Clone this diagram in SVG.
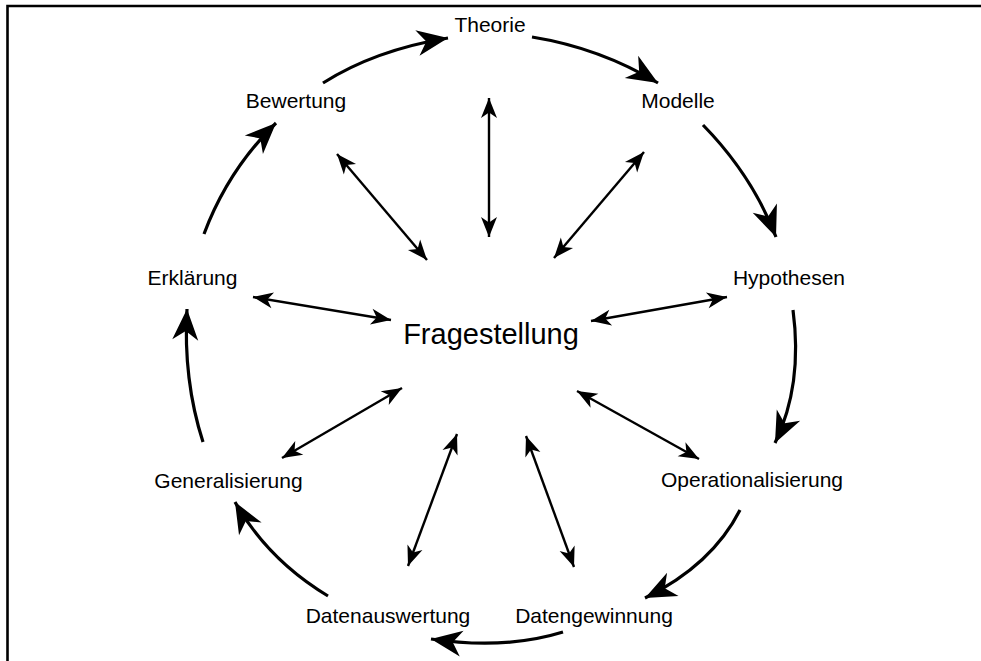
<svg xmlns="http://www.w3.org/2000/svg" width="981" height="661" viewBox="0 0 981 661">
  <style>
    .lbl { font-family: "Liberation Sans", Arial, Helvetica, sans-serif; font-size: 21px; fill: #000; text-anchor: middle; }
    .main { font-size: 29px; }
    .cycle { fill: none; stroke: #000; stroke-width: 3.2; marker-end: url(#bigHead); }
    .link { fill: none; stroke: #000; stroke-width: 2.4; marker-start: url(#smallHead); marker-end: url(#smallHead); }
    .frame { fill: none; stroke: #000; stroke-width: 2.6; }
  </style>
  <defs>
    <marker id="bigHead" markerUnits="userSpaceOnUse" viewBox="-34 -16 36 32" refX="0" refY="0" markerWidth="36" markerHeight="32" orient="auto" overflow="visible">
      <path d="M0,0 L-31,-13 L-22,0 L-31,13 Z" fill="#000"/>
    </marker>
    <marker id="smallHead" markerUnits="userSpaceOnUse" viewBox="-23 -10 25 20" refX="0" refY="0" markerWidth="25" markerHeight="20" orient="auto-start-reverse" overflow="visible">
      <path d="M0,0 L-20,-8 L-14.5,0 L-20,8 Z" fill="#000"/>
    </marker>
  </defs>

  <rect width="981" height="661" fill="#fff"/>
  <!-- open frame: top and left edges only -->
  <path class="frame" d="M7.5,661 L7.5,6 L981,6"/>

  <g id="connectors">
    <!-- outer cycle -->
    <path class="cycle" d="M323,83 Q375,50 448,38"/>
    <path class="cycle" d="M532,37 Q600,48 658,83"/>
    <path class="cycle" d="M703,125 Q752,175 776,237"/>
    <path class="cycle" d="M793,310 Q803,385 775,443"/>
    <path class="cycle" d="M740,510 Q712,565 645,598"/>
    <path class="cycle" d="M563,632 Q505,650 431,639"/>
    <path class="cycle" d="M328,596 Q268,560 235,502"/>
    <path class="cycle" d="M203,442 Q183,380 187,309"/>
    <path class="cycle" d="M204,234 Q228,170 276,123"/>
    <!-- links to the central question -->
    <path class="link" d="M489,98 L489,237"/>
    <path class="link" d="M337,154 L427,260"/>
    <path class="link" d="M644,152 L554,258"/>
    <path class="link" d="M253,297 L391,320"/>
    <path class="link" d="M727,297 L591,321"/>
    <path class="link" d="M282,458 L402,388"/>
    <path class="link" d="M699,459 L577,391"/>
    <path class="link" d="M457,434 L408,566"/>
    <path class="link" d="M526,436 L574,567"/>
  </g>

  <g id="fragestellung"><text class="lbl main" x="491" y="344">Fragestellung</text></g>
  <g id="theorie"><text class="lbl" x="490" y="32">Theorie</text></g>
  <g id="modelle"><text class="lbl" x="678" y="108">Modelle</text></g>
  <g id="hypothesen"><text class="lbl" x="789" y="285">Hypothesen</text></g>
  <g id="operationalisierung"><text class="lbl" x="752" y="487">Operationalisierung</text></g>
  <g id="datengewinnung"><text class="lbl" x="594" y="623">Datengewinnung</text></g>
  <g id="datenauswertung"><text class="lbl" x="388" y="623">Datenauswertung</text></g>
  <g id="generalisierung"><text class="lbl" x="228.5" y="488">Generalisierung</text></g>
  <g id="erklaerung"><text class="lbl" x="192.5" y="285">Erklärung</text></g>
  <g id="bewertung"><text class="lbl" x="296" y="108">Bewertung</text></g>
</svg>
